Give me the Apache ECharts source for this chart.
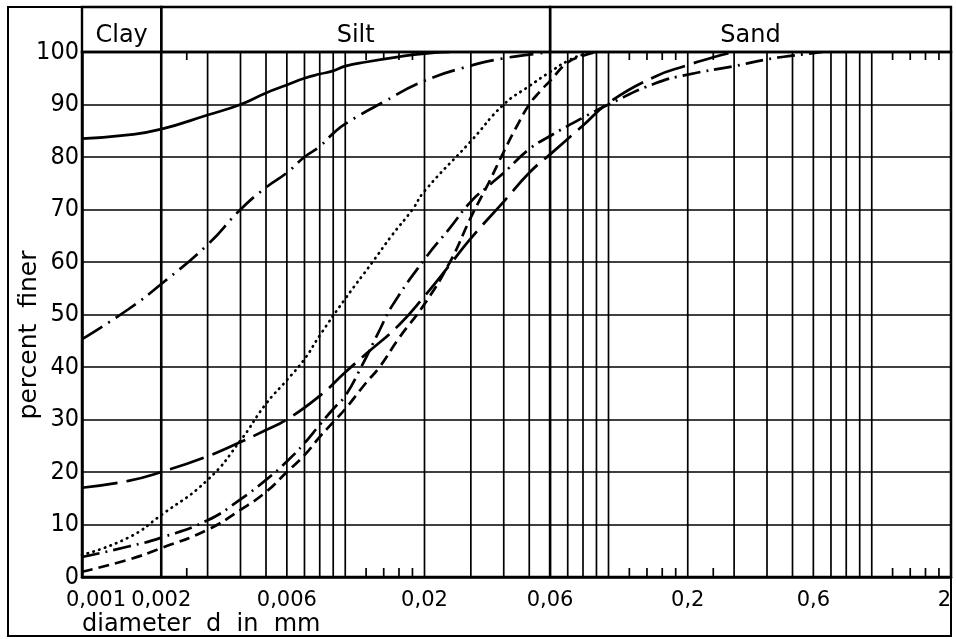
<!DOCTYPE html>
<html>
<head>
<meta charset="utf-8">
<title>Grain size distribution</title>
<script src="https://cdn.jsdelivr.net/npm/echarts@6.0.0/dist/echarts.min.js"></script>
<style>
  html, body { margin: 0; padding: 0; background: #fff; }
  #chart { width: 956px; height: 639px; }
</style>
</head>
<body>
<div id="chart"></div>
<script>
// axis furniture
var xLabels = [0.001, 0.002, 0.006, 0.02, 0.06, 0.2, 0.6, 2]
var gridX = [0.002, 0.003, 0.004, 0.005, 0.006, 0.007, 0.008, 0.009, 0.01,
  0.02, 0.03, 0.04, 0.05, 0.06, 0.07, 0.08, 0.09, 0.1,
  0.2, 0.3, 0.4, 0.5, 0.6, 0.7, 0.8, 0.9, 1]
var shortTicksX = [0.0025, 0.012, 0.014, 0.016, 0.018, 0.12, 0.14, 0.16, 0.18, 0.25, 1.2, 1.4, 1.6, 1.8]
var zoneNames = ['Clay', 'Silt', 'Sand']
var zoneEdges = [0.001, 0.002, 0.06, 2]

// curves: diameter d (mm) / percent finer
var dSolid = [0.001, 0.0015, 0.002, 0.003, 0.004, 0.005, 0.006, 0.007, 0.008, 0.009, 0.01, 0.012, 0.016, 0.02, 0.025]
var pSolid = [83.5, 84.2, 85.3, 88, 90, 92.2, 93.7, 95, 95.8, 96.4, 97.3, 98.1, 99.1, 99.7, 100]

var dDashDot1 = [0.001, 0.0015, 0.002, 0.003, 0.004, 0.005, 0.006, 0.007, 0.008, 0.009, 0.01, 0.014, 0.02, 0.03, 0.04, 0.05, 0.06]
var pDashDot1 = [45.3, 51, 55.8, 63.3, 70, 74.2, 77, 80, 82, 84.5, 86.3, 90.5, 94.5, 97.4, 98.8, 99.5, 100]

var dDotted = [0.001, 0.0015, 0.002, 0.003, 0.004, 0.005, 0.006, 0.007, 0.008, 0.01, 0.0127, 0.015, 0.018, 0.02, 0.03, 0.04, 0.05, 0.06, 0.07, 0.08, 0.09]
var pDotted = [4.2, 7.5, 11.8, 18.5, 26, 33, 37.5, 41.5, 46, 53, 60, 65, 70, 73.5, 83, 90, 93.5, 96.2, 98.3, 99.5, 100]

var dDashed = [0.001, 0.0015, 0.002, 0.003, 0.004, 0.005, 0.006, 0.007, 0.008, 0.009, 0.01, 0.012, 0.0135, 0.016, 0.02, 0.025, 0.03, 0.035, 0.04, 0.045, 0.05, 0.055, 0.06, 0.07, 0.08, 0.09]
var pDashed = [1, 3.3, 5.5, 9, 12.8, 16.2, 20, 23.2, 26.7, 29.5, 32, 37, 40, 45.5, 52, 60, 68.5, 75, 81, 86, 90, 92.5, 94.5, 98, 99.3, 100]

var dDashDot2 = [0.001, 0.0015, 0.002, 0.003, 0.004, 0.005, 0.006, 0.007, 0.008, 0.009, 0.01, 0.0115, 0.0135, 0.015, 0.02, 0.025, 0.03, 0.035, 0.04, 0.05, 0.06, 0.08, 0.1, 0.15, 0.2, 0.3, 0.4, 0.5, 0.65]
var pDashDot2 = [3.8, 5.8, 7.5, 10.8, 14.8, 18.5, 22, 25.5, 29, 32, 34.5, 40, 47, 51.5, 60.5, 66.5, 71.5, 74.5, 77, 81.5, 84, 87.5, 90, 94, 95.7, 97.3, 98.6, 99.3, 100]

var dLongDash = [0.001, 0.0015, 0.002, 0.003, 0.004, 0.005, 0.006, 0.008, 0.01, 0.012, 0.016, 0.02, 0.025, 0.03, 0.04, 0.05, 0.06, 0.08, 0.1, 0.15, 0.2, 0.25, 0.3]
var pLongDash = [17, 18.3, 20, 23, 25.7, 28, 30, 34.5, 39, 42.5, 48, 53.5, 59.5, 64.5, 71.5, 77, 80.5, 86, 90.3, 95.3, 97.5, 99, 100]

function pairs(xs, ys) {
  return xs.map(function (x, i) { return [x, ys[i]] })
}

function sameValue(a, b) {
  return Math.abs(Math.log(a / b)) < 1e-6
}

function curve(name, xs, ys, dash, cap) {
  return {
    name: name,
    type: 'line',
    data: pairs(xs, ys),
    showSymbol: false,
    smooth: 0.5,
    z: 5,
    lineStyle: {
      color: '#000',
      width: 2.7,
      type: dash,
      cap: cap || 'butt'
    }
  }
}

var font = 'DejaVu Sans'
var numFont = '"DejaVu Sans Condensed", "DejaVu Sans", sans-serif'

var chart = echarts.init(document.getElementById('chart'))
chart.setOption({
  backgroundColor: '#fff',
  animation: false,
  grid: {
    left: 82,
    right: 5,
    top: 52,
    bottom: 62,
    show: true,
    borderColor: '#000',
    borderWidth: 2.5,
    containLabel: false,
    outerBoundsMode: 'none'
  },
  xAxis: {
    type: 'log',
    logBase: 10,
    min: 0.001,
    max: 2,
    axisLine: { show: true, onZero: false, lineStyle: { color: '#000', width: 2.5 } },
    axisTick: { show: false },
    minorTick: { show: false },
    splitLine: { show: false },
    axisLabel: { show: false }
  },
  yAxis: {
    type: 'value',
    min: 0,
    max: 100,
    interval: 10,
    axisLine: { show: true, lineStyle: { color: '#000', width: 2.5 } },
    axisTick: { show: false },
    axisLabel: { color: '#000', fontFamily: numFont, fontSize: 25, margin: 3, padding: [6, 0, 0, 0] },
    splitLine: { show: true, lineStyle: { color: '#000', width: 1.7 } }
  },
  graphic: [
    {
      type: 'rect',
      shape: { x: 8, y: 7, width: 943, height: 629 },
      style: { fill: 'none', stroke: '#000', lineWidth: 2 },
      z: 10
    },
    {
      type: 'text',
      left: 82,
      top: 613,
      style: { text: 'diameter  d  in  mm', font: '24px "DejaVu Sans"', fill: '#000' }
    },
    {
      type: 'text',
      x: 29,
      y: 335,
      rotation: Math.PI / 2,
      style: {
        text: 'percent  finer',
        font: '25px "DejaVu Sans"',
        fill: '#000',
        align: 'center',
        verticalAlign: 'middle'
      }
    }
  ],
  series: [
    {
      // vertical grid lines
      type: 'custom',
      z: 1,
      silent: true,
      data: gridX.map(function (x) { return [x, 0] }),
      encode: { x: 0, y: 1 },
      renderItem: function (params, api) {
        var v = api.value(0)
        var top = api.coord([v, 100])
        var bottom = api.coord([v, 0])
        var heavy = sameValue(v, 0.002) || sameValue(v, 0.06)
        return {
          type: 'line',
          shape: { x1: top[0], y1: top[1], x2: bottom[0], y2: bottom[1] },
          style: { stroke: '#000', lineWidth: heavy ? 2.6 : 1.7 }
        }
      }
    },
    {
      // short ticks at top and bottom
      type: 'custom',
      z: 1,
      silent: true,
      data: shortTicksX.map(function (x) { return [x, 0] }),
      encode: { x: 0, y: 1 },
      renderItem: function (params, api) {
        var v = api.value(0)
        var top = api.coord([v, 100])
        var bottom = api.coord([v, 0])
        return {
          type: 'group',
          children: [
            { type: 'line', shape: { x1: top[0], y1: top[1], x2: top[0], y2: top[1] + 8 }, style: { stroke: '#000', lineWidth: 1.7 } },
            { type: 'line', shape: { x1: bottom[0], y1: bottom[1], x2: bottom[0], y2: bottom[1] - 9 }, style: { stroke: '#000', lineWidth: 1.7 } }
          ]
        }
      }
    },
    {
      // x tick labels with decimal comma
      type: 'custom',
      z: 6,
      silent: true,
      data: xLabels.map(function (x) { return [x, 0] }),
      encode: { x: 0, y: 1 },
      renderItem: function (params, api) {
        var v = api.value(0)
        var p = api.coord([v, 0])
        var last = params.dataIndex === xLabels.length - 1
        var first = params.dataIndex === 0
        var s = String(xLabels[params.dataIndex]).replace('.', ',')
        return {
          type: 'text',
          x: p[0] + (first ? 14 : 0),
          y: p[1] + 13,
          style: {
            text: s,
            font: '21px "DejaVu Sans"',
            fill: '#000',
            align: last ? 'right' : 'center',
            verticalAlign: 'top'
          }
        }
      }
    },
    {
      // Clay / Silt / Sand header
      type: 'custom',
      z: 6,
      silent: true,
      data: zoneNames.map(function (n, i) { return [zoneEdges[i], zoneEdges[i + 1], 100] }),
      encode: { x: [0, 1], y: 2 },
      renderItem: function (params, api) {
        var a = api.coord([api.value(0), 100])
        var b = api.coord([api.value(1), 100])
        var h = 45
        return {
          type: 'group',
          children: [
            {
              type: 'rect',
              shape: { x: a[0], y: a[1] - h, width: b[0] - a[0], height: h },
              style: { fill: 'none', stroke: '#000', lineWidth: 2.4 }
            },
            {
              type: 'text',
              x: (a[0] + b[0]) / 2,
              y: a[1] - 16,
              style: {
                text: zoneNames[params.dataIndex],
                font: '24px "DejaVu Sans"',
                fill: '#000',
                align: 'center',
                verticalAlign: 'middle'
              }
            }
          ]
        }
      }
    },
    curve('solid', dSolid, pSolid, 'solid'),
    curve('dash-dot upper', dDashDot1, pDashDot1, [24, 7, 2, 7]),
    curve('dotted', dDotted, pDotted, [0.5, 5.5], 'round'),
    curve('dashed', dDashed, pDashed, [11, 6]),
    curve('dash-dot lower', dDashDot2, pDashDot2, [18, 6, 2, 6]),
    curve('long dash', dLongDash, pLongDash, [36, 9])
  ]
})
</script>
</body>
</html>
